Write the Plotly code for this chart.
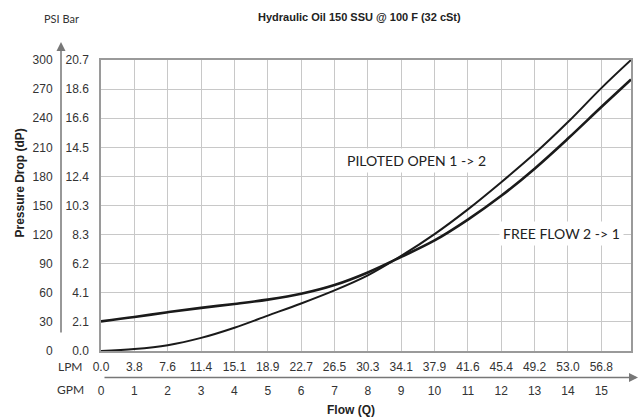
import plotly.graph_objects as go

# ---- data (x in GPM, y in PSI) ----
gpm = [0, 1, 2, 3, 4, 5, 6, 7, 8, 9, 10, 11, 12, 13, 14, 15, 15.89]
piloted_open = [0, 2, 6, 13.5, 24, 36.5, 49, 62.5, 78, 98, 120.5, 146, 174, 203.5, 236, 271, 300]
free_flow = [30.5, 35, 40, 44.5, 48.5, 53, 59, 68, 81, 97, 114, 135.5, 160, 188, 219, 251.5, 280]

gpm_ticks = list(range(16))
gpm_labels = [str(v) for v in gpm_ticks]
lpm_labels = ["0.0", "3.8", "7.6", "11.4", "15.1", "18.9", "22.7", "26.5", "30.3",
              "34.1", "37.9", "41.6", "45.4", "49.2", "53.0", "56.8"]
psi_ticks = [0, 30, 60, 90, 120, 150, 180, 210, 240, 270, 300]
psi_labels = [str(v) for v in psi_ticks]
bar_labels = ["0.0", "2.1", "4.1", "6.2", "8.3", "10.3", "12.4", "14.5", "16.6", "18.6", "20.7"]

W, H = 641, 419
ML, MR, MT, MB = 10, 10, 60, 42
PW, PH = W - ML - MR, H - MT - MB


def px(x):
    return (x - ML) / PW


def py(y):
    return (H - MB - y) / PH


TICKFONT = dict(family="Liberation Sans, Arial", size=12, color="#333")
LBLFONT = "Lato, Open Sans"

fig = go.Figure()
fig.add_trace(go.Scatter(x=gpm, y=free_flow, mode="lines", line=dict(color="#1a1a1a", width=2.6, shape="spline", smoothing=1),
                         name="FREE FLOW 2 -> 1", showlegend=False))
fig.add_trace(go.Scatter(x=gpm, y=piloted_open, mode="lines", line=dict(color="#1a1a1a", width=2, shape="spline", smoothing=1),
                         name="PILOTED OPEN 1 -> 2", showlegend=False))
# helper trace so the secondary axes are drawn
fig.add_trace(go.Scatter(x=[gpm[0]], y=[psi_ticks[0]], xaxis="x2", yaxis="y2", mode="markers",
                         marker=dict(opacity=0), showlegend=False, hoverinfo="skip"))

fig.update_layout(
    width=W, height=H,
    margin=dict(l=ML, r=MR, t=MT, b=MB, autoexpand=False),
    plot_bgcolor="white", paper_bgcolor="white",
    showlegend=False,
    xaxis=dict(domain=[px(101), 1], range=[0, 15.89], tickvals=gpm_ticks, ticktext=lpm_labels, automargin=False,
               showgrid=True, gridcolor="#c8c8c8", gridwidth=1, zeroline=False,
               showline=True, mirror=True, linecolor="#9a9a9a", linewidth=1.5,
               ticks="outside", ticklen=4, tickcolor="rgba(0,0,0,0)", tickfont=TICKFONT),
    xaxis2=dict(overlaying="x", anchor="free", position=0, side="bottom", range=[0, 15.89], automargin=False,
                tickvals=gpm_ticks, ticktext=gpm_labels, showgrid=False, zeroline=False, showline=False,
                ticks="outside", ticklen=3, tickcolor="rgba(0,0,0,0)", tickfont=TICKFONT),
    yaxis=dict(domain=[py(351), 1], range=[0, 300], tickvals=psi_ticks, ticktext=bar_labels, automargin=False,
               showgrid=True, gridcolor="#c8c8c8", gridwidth=1, zeroline=False,
               showline=True, mirror=True, linecolor="#9a9a9a", linewidth=1.5,
               ticks="outside", ticklen=8, tickcolor="rgba(0,0,0,0)", tickfont=TICKFONT),
    yaxis2=dict(overlaying="y", anchor="free", position=px(61), side="left", range=[0, 300], automargin=False,
                tickvals=psi_ticks, ticktext=psi_labels, showgrid=False, zeroline=False, showline=False,
                ticks="outside", ticklen=6, tickcolor="rgba(0,0,0,0)", tickfont=TICKFONT),
)

ann = []
# axis arrows
ann.append(dict(xref="paper", yref="paper", x=px(61), y=py(42), ax=0, ay=292, axref="pixel", ayref="pixel",
                text="", showarrow=True, arrowhead=2, arrowsize=1.2, arrowwidth=1.5, arrowcolor="#777"))
ann.append(dict(xref="paper", yref="paper", x=px(638), y=py(377.5), ax=-535, ay=0, axref="pixel", ayref="pixel",
                text="", showarrow=True, arrowhead=2, arrowsize=1.2, arrowwidth=1.5, arrowcolor="#777"))


def label(x, y, text, size, family, color="#333", **kw):
    ann.append(dict(xref="paper", yref="paper", x=px(x), y=py(y), text=text, showarrow=False,
                    xanchor="center", yanchor="middle", font=dict(family=family, size=size, color=color), **kw))


label(359, 17, "<b>Hydraulic Oil 150 SSU @ 100 F (32 cSt)</b>", 11, "Liberation Sans, Arial", "#222")
label(61, 19, "PSI Bar", 11, LBLFONT)
label(19, 183.5, "<b>Pressure Drop (dP)</b>", 12, "Liberation Sans, Arial", "#222", textangle=-90)
label(70, 366, "LPM", 12, LBLFONT)
label(70, 389, "GPM", 12, LBLFONT)
label(350.5, 410, "<b>Flow (Q)</b>", 12, "Liberation Sans, Arial", "#222")

# curve labels
ann.append(dict(xref="x", yref="y", x=9.45, y=196.6, text="PILOTED OPEN 1 -> 2", showarrow=False,
                xanchor="center", yanchor="middle",
                bgcolor="white", borderpad=3, font=dict(family=LBLFONT, size=14, color="#222")))
ann.append(dict(xref="x", yref="y", x=13.8, y=121.3, text="FREE FLOW 2 -> 1", showarrow=False,
                xanchor="center", yanchor="middle",
                bgcolor="white", borderpad=3, font=dict(family=LBLFONT, size=14, color="#222")))
fig.update_layout(annotations=ann)

fig.write_html("out.html", config={"displayModeBar": False},
               post_script="document.body.style.margin='0';document.body.style.overflow='hidden';")
